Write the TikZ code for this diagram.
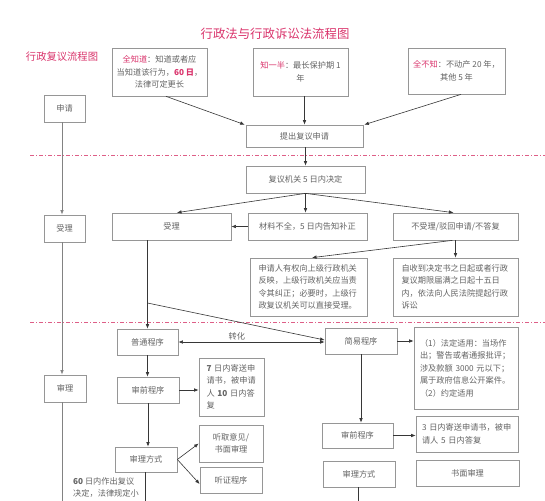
\documentclass[tikz,border=0pt]{standalone}
\usepackage{fontspec}
\setmainfont{Noto Sans CJK SC}
\usetikzlibrary{arrows.meta,calc}
\definecolor{pinkc}{RGB}{218,52,108}
\definecolor{txtg}{RGB}{100,100,100}
\definecolor{boxg}{RGB}{150,150,150}
\definecolor{arrg}{RGB}{55,55,55}
\definecolor{lineg}{RGB}{130,130,130}
\definecolor{dashc}{RGB}{222,95,135}
\newcommand\boxfont{\fontsize{8.2}{12.5}\selectfont}
\newcommand\rbox[7][]{\node[box,minimum width={#5-#3},minimum height={#6-#4},#1] (#2) at ({(#3+#5)/2},{(#4+#6)/2}) {#7};}
\begin{document}
\begin{tikzpicture}[x=1pt,y=-1pt,
  box/.style={draw=boxg,line width=0.7pt,inner sep=0pt,text=txtg,font=\boxfont,align=center},
  arr/.style={draw=arrg,line width=0.6pt,-{Latex[length=4.5pt,width=3.6pt]}},
  arrtwo/.style={arr,{Latex[length=4.5pt,width=3.6pt]}-{Latex[length=4.5pt,width=3.6pt]}},
  ln/.style={draw=arrg,line width=0.6pt},
  dashline/.style={draw=dashc,line width=0.7pt,dash pattern=on 4pt off 2pt on 1pt off 2pt}]
\fill[white] (0,0) rectangle (545,500);
\useasboundingbox (0,0) rectangle (545,500);
\coordinate (bot) at (0,502);
% titles
\node[text=pinkc,font=\fontsize{12.4}{14}\selectfont] (title) at (275,34) {行政法与行政诉讼法流程图};
\node[text=pinkc,font=\fontsize{10.3}{12}\selectfont] (sub) at (62,57) {行政复议流程图};
% separators
\draw[dashline] (30,155) -- (545,155);
\draw[dashline] (30,322) -- (545,322);
% top boxes
\rbox{ba}{112}{48}{207}{96}{\textcolor{pinkc}{全知道}：知道或者应\\当知道该行为，\textcolor{pinkc}{\textbf{60~日}}，\\法律可定更长}
\rbox{bb}{253}{48}{348}{96}{\textcolor{pinkc}{知一半}：最长保护期~1\\年}
\rbox{bc}{408}{48}{505}{94}{\textcolor{pinkc}{全不知}：不动产~20~年，\\其他~5~年}
\rbox{sq}{44}{95}{85}{122}{申请}
\rbox{tc}{246}{125}{363}{147}{提出复议申请}
\rbox{fy}{246}{166}{365}{193}{复议机关~5~日内决定}
\rbox{slL}{44}{215}{85}{242}{受理}
\rbox{slm}{112}{213}{231}{240}{受理}
\rbox{cl}{248}{213}{367}{240}{材料不全，5~日内告知补正}
\rbox{bsl}{393}{213}{518}{240}{不受理/驳回申请/不答复}
\rbox[text width=100pt,align=left]{sqr}{250}{258}{367}{316}{申请人有权向上级行政机关\\反映，上级行政机关应当责\\令其纠正；必要时，上级行\\政复议机关可以直接受理。}
\rbox[text width=108pt,align=left]{zsd}{393}{258}{518}{316}{自收到决定书之日起或者行政\\复议期限届满之日起十五日\\内，依法向人民法院提起行政\\诉讼}
% lower part
\rbox{pt}{117}{329}{178}{355}{普通程序}
\rbox{jy}{325}{328}{397}{354}{简易程序}
\rbox[text width=92pt,align=left]{fd}{414}{327}{518}{409}{（1）法定适用：当场作\\出；警告或者通报批评；\\涉及款额~3000~元以下；\\属于政府信息公开案件。\\（2）约定适用}
\rbox{slLL}{44}{375}{86}{402}{审理}
\rbox{sqL}{117}{377}{179}{403}{审前程序}
\rbox[text width=50pt,align=left]{qr}{199}{358}{264}{416}{\textbf{7}~日内寄送申\\请书，被申请\\人~\textbf{10}~日内答\\复}
\rbox{tq}{199}{425}{263}{462}{听取意见/\\书面审理}
\rbox{tz}{200}{467}{262}{493}{听证程序}
\rbox{fsL}{115}{447}{177}{472}{审理方式}
\rbox{sqR}{322}{423}{393}{448}{审前程序}
\rbox[text width=90pt,align=left]{sr}{416}{416}{518}{452}{3~日内寄送申请书，被申\\请人~5~日内答复}
\rbox{fsR}{323}{461}{395}{487}{审理方式}
\rbox{sm}{416}{460}{519}{486}{书面审理}
\node[anchor=north west,inner sep=0pt,text=txtg,font=\boxfont,align=left] (sixty) at (73,477) {\textbf{60}~日内作出复议\\决定，法律规定小};
% connectors top
\draw[arr] ([xshift=6.5pt]ba.south) -- ([xshift=-1pt]tc.north west);
\draw[arr] (bb.south -| tc.north) -- (tc.north);
\draw[arr] ([xshift=4.5pt]bc.south) -- ([xshift=1pt]tc.north east);
\draw[arr] (tc.south -| fy.north) -- (fy.north);
\draw[arr] (fy.south) -- ([xshift=5.5pt]slm.north);
\draw[arr] (fy.south) -- (fy.south |- cl.north);
\draw[arr] (fy.south) -- ([xshift=-2pt]bsl.north);
\draw[arr] (cl.west) -- (slm.east);
\draw[arr] (bsl.south) -- (bsl.south |- zsd.north);
\draw[arr] ([xshift=-3pt]bsl.south) -- ([xshift=3.5pt]sqr.north);
% left column
\draw[arr,draw=lineg,line width=0.8pt] ([xshift=-2.5pt]sq.south) -- ([xshift=-2.5pt]sq.south |- slL.north);
\draw[arr,draw=lineg,line width=0.8pt] ([xshift=-2.5pt]slL.south) -- ([xshift=-2.5pt]slL.south |- slLL.north);
\draw[ln,draw=lineg,line width=0.8pt] ([xshift=-2.5pt]slLL.south) -- ([xshift=-2.5pt]slLL.south |- bot);
% middle
\coordinate (br) at (147.5,303);
\draw[arr] (slm.south -| pt.north) -- (pt.north);
\draw[arr] (br) -- ([yshift=1pt]jy.west);
\draw[arrtwo] (pt.east) -- (pt.east -| jy.west) node[pos=0.4,above,inner sep=2pt,text=txtg,font=\boxfont] (zh) {转化};
\draw[arr] (jy.east) -- (jy.east -| fd.west);
\draw[arr] (pt.south) -- (pt.south |- sqL.north);
\draw[arr] (sqL.east) -- (sqL.east -| qr.west);
\draw[arr] (sqL.south) -- (sqL.south |- fsL.north);
\draw[arr] (fsL.east) -- (tq.west);
\draw[arr] (fsL.east) -- ([yshift=-4pt]tz.west);
\draw[ln] ([xshift=-1pt]fsL.south) -- ([xshift=-1pt]fsL.south |- bot);
% right
\draw[arr] (jy.south) -- (jy.south |- sqR.north);
\draw[arr] (sqR.east) -- (sqR.east -| sr.west);
\draw[ln] ([xshift=-1pt]fsR.south) -- ([xshift=-1pt]fsR.south |- bot);
\end{tikzpicture}
\end{document}
